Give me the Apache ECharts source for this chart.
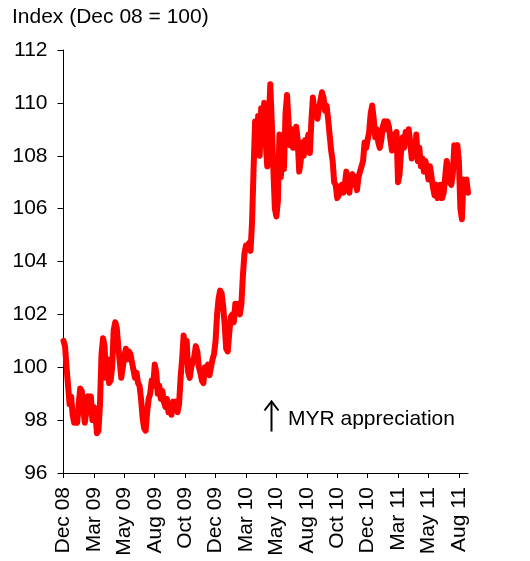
<!DOCTYPE html>
<html>
<head>
<meta charset="utf-8">
<script src="https://cdn.jsdelivr.net/npm/echarts@6/dist/echarts.min.js"></script>
<style>
  html, body { margin: 0; padding: 0; background: #fff; }
  #chart { width: 530px; height: 561px; }
</style>
</head>
<body>
<div id="chart"></div>
<script>
// Labelled ticks, one every POINTS_PER_TICK observations
const tickLabels = ['Dec 08', 'Mar 09', 'May 09', 'Aug 09', 'Oct 09', 'Dec 09', 'Mar 10',
  'May 10', 'Aug 10', 'Oct 10', 'Dec 10', 'Mar 11', 'May 11', 'Aug 11'];
const POINTS_PER_TICK = 20;

// Index level (Dec 08 = 100)
const indexValues = [
  101.0, 100.8, 100.0, 99.3, 98.6, 98.9, 98.2, 97.9, 98.0, 97.9,
  98.6, 99.2, 99.1, 98.4, 97.9, 98.3, 98.9, 98.6, 98.9, 98.0,
  98.5, 98.2, 97.5, 97.6, 98.6, 100.5, 101.1, 100.8, 99.6, 100.3,
  99.4, 99.5, 100.0, 101.4, 101.7, 101.5, 100.8, 100.2, 99.6, 100.0,
  100.4, 100.7, 100.3, 100.6, 100.5, 100.2, 99.9, 99.6, 99.8, 99.4,
  99.3, 98.8, 98.1, 97.7, 97.6, 98.3, 98.8, 99.0, 99.5, 99.3,
  100.1, 99.8, 99.0, 99.3, 98.8, 99.1, 98.7, 98.5, 98.8, 98.3,
  98.5, 98.2, 98.7, 98.4, 98.7, 98.3, 98.6, 99.6, 100.3, 101.2,
  100.6, 101.0, 99.8, 99.6, 100.0, 100.0, 100.4, 100.8, 100.6, 100.0,
  99.8, 99.5, 99.4, 100.0, 99.9, 100.1, 99.7, 100.0, 100.3, 100.5,
  101.0, 102.0, 102.6, 102.9, 102.8, 102.3, 101.6, 100.7, 100.6, 101.3,
  101.9, 102.0, 101.7, 102.4, 102.2, 102.4, 102.0, 102.4, 103.5, 104.3,
  104.6, 104.5, 104.7, 104.4, 105.5, 107.5, 109.3, 108.2, 109.5, 108.0,
  109.8, 109.0, 110.0, 108.5, 107.6, 109.3, 110.7, 109.2, 107.5, 106.0,
  105.7, 106.3, 108.8, 107.2, 108.6, 107.5, 109.6, 110.3, 109.3, 108.4,
  109.0, 108.3, 108.8, 109.1, 108.6, 107.4, 107.8, 108.5, 108.0, 108.6,
  108.3, 108.8, 108.1, 109.3, 110.2, 109.6, 109.7, 109.4, 109.8, 110.1,
  110.4, 110.2, 109.7, 109.9, 109.4, 108.8, 108.2, 107.8, 107.0, 106.9,
  106.4, 106.5, 106.7, 106.9, 106.6, 106.9, 107.4, 106.9, 106.6, 107.2,
  107.3, 106.9, 107.2, 106.7, 107.2, 107.4, 107.6, 107.8, 108.5, 108.3,
  108.6, 108.9, 109.6, 109.9, 109.4, 108.7, 109.0, 108.5, 108.3, 108.6,
  109.1, 109.3, 109.0, 109.3, 109.1, 108.6, 108.2, 108.8, 108.6, 108.9,
  107.0, 107.3, 108.2, 108.7, 108.3, 108.9, 108.7, 109.0, 108.5, 107.9,
  108.5, 108.0, 108.8, 107.8, 108.3, 107.6, 107.9, 107.4, 107.8, 107.5,
  107.1, 107.6, 107.2, 106.8, 106.5, 106.9, 106.4, 106.7, 106.9, 106.4,
  106.6, 107.2, 107.8, 107.5, 107.0, 106.9, 107.3, 108.4, 108.3, 108.4,
  107.8, 106.0, 105.6, 107.1, 106.8, 107.1, 106.6
];

const categories = indexValues.map((_, i) =>
  i % POINTS_PER_TICK === 0 && tickLabels[i / POINTS_PER_TICK] !== undefined
    ? tickLabels[i / POINTS_PER_TICK] : 'p' + i);
const isTick = (i) => i % POINTS_PER_TICK === 0;

const FONT = 'Liberation Sans, Arial, sans-serif';
const chart = echarts.init(document.getElementById('chart'), null, { renderer: 'canvas' });

chart.setOption({
  animation: false,
  backgroundColor: '#ffffff',
  grid: { left: 63.5, right: 62, top: 50, bottom: 88, containLabel: false },
  xAxis: {
    type: 'category',
    data: categories,
    boundaryGap: false,
    axisLine: { lineStyle: { color: '#000', width: 1 } },
    axisTick: { show: true, length: 5, interval: (i) => isTick(i), lineStyle: { color: '#000' } },
    axisLabel: {
      interval: (i) => isTick(i),
      rotate: 90,
      margin: 14,
      color: '#000',
      fontSize: 21,
      fontFamily: FONT
    },
    splitLine: { show: false }
  },
  yAxis: {
    type: 'value',
    min: 96,
    max: 112,
    interval: 2,
    axisLine: { show: true, lineStyle: { color: '#000', width: 1 } },
    axisTick: { show: true, length: 6, lineStyle: { color: '#000' } },
    axisLabel: { color: '#000', fontSize: 21, fontFamily: FONT, margin: 16 },
    splitLine: { show: false }
  },
  series: [{
    type: 'line',
    data: indexValues,
    symbol: 'none',
    smooth: false,
    lineStyle: { color: '#ff0000', width: 6, join: 'round', cap: 'round' }
  }],
  graphic: [
    {
      type: 'text',
      left: 12,
      top: 7,
      style: { text: 'Index (Dec 08 = 100)', fill: '#000', font: '21px ' + FONT }
    },
    {
      type: 'group',
      left: 262,
      top: 399,
      children: [
        { type: 'line', shape: { x1: 8, y1: 1, x2: 8, y2: 31 }, style: { stroke: '#000', lineWidth: 2 } },
        { type: 'polyline', shape: { points: [[1, 10], [8, 1], [15, 10]] }, style: { stroke: '#000', lineWidth: 2, fill: null } }
      ]
    },
    {
      type: 'text',
      left: 288,
      top: 409,
      style: { text: 'MYR appreciation', fill: '#000', font: '21px ' + FONT }
    }
  ]
});
</script>
</body>
</html>
